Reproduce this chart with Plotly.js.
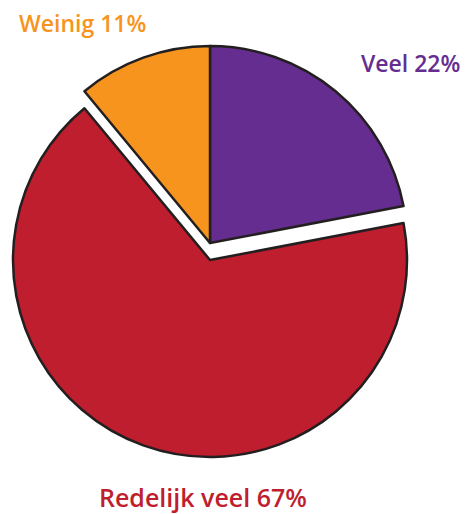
<!DOCTYPE html>
<html>
<head>
<meta charset="utf-8">
<script src="https://cdn.plot.ly/plotly-3.0.1.min.js"></script>
<style>html,body{margin:0;padding:0;background:#fff;}#chart{width:467px;height:514px;}</style>
</head>
<body>
<div id="chart"></div>
<script>
const categories = ["Veel", "Redelijk veel", "Weinig"];
const values = [22, 67, 11];
const sliceColors = ["#662d91", "#be1e2d", "#f7941d"];
const labelTexts = ["Veel 22%", "Redelijk veel 67%", "Weinig 11%"];

const W = 467, H = 514;
const R = 197, cx = 210;
const cyTop = 243, cyRed = 260;
const outline = "#231f20";
const clear = "rgba(0,0,0,0)";

function dom(cy) {
  return {
    x: [(cx - R) / W, (cx + R) / W],
    y: [(H - (cy + R)) / H, (H - (cy - R)) / H]
  };
}

const traceTop = {
  type: "pie", labels: categories, values: values, sort: false,
  direction: "clockwise", rotation: 0, textinfo: "none", hoverinfo: "skip",
  domain: dom(cyTop), showlegend: false,
  marker: {
    colors: sliceColors.map((c, i) => i === 1 ? clear : c),
    line: { color: sliceColors.map((c, i) => i === 1 ? clear : outline), width: sliceColors.map((c, i) => i === 1 ? 0 : 2.5) }
  }
};
const traceRed = {
  type: "pie", labels: categories, values: values, sort: false,
  direction: "clockwise", rotation: 0, textinfo: "none", hoverinfo: "skip",
  domain: dom(cyRed), showlegend: false,
  marker: {
    colors: sliceColors.map((c, i) => i === 1 ? c : clear),
    line: { color: sliceColors.map((c, i) => i === 1 ? outline : clear), width: sliceColors.map((c, i) => i === 1 ? 2.5 : 0) }
  }
};

const labelPos = [[410, 63], [203, 497], [82, 23]];
const labelSizes = [23, 25, 23];
const annotations = labelTexts.map((t, i) => ({
  text: t, xref: "paper", yref: "paper",
  x: labelPos[i][0] / W, y: 1 - labelPos[i][1] / H,
  xanchor: "center", yanchor: "middle", showarrow: false,
  font: { family: "Open Sans", size: labelSizes[i], weight: 600, color: sliceColors[i] }
}));

Plotly.newPlot("chart", [traceTop, traceRed], {
  width: W, height: H, margin: { l: 0, r: 0, t: 0, b: 0 },
  paper_bgcolor: "#fff", plot_bgcolor: "#fff",
  annotations: annotations, showlegend: false
}, { displayModeBar: false, staticPlot: true });
</script>
</body>
</html>
